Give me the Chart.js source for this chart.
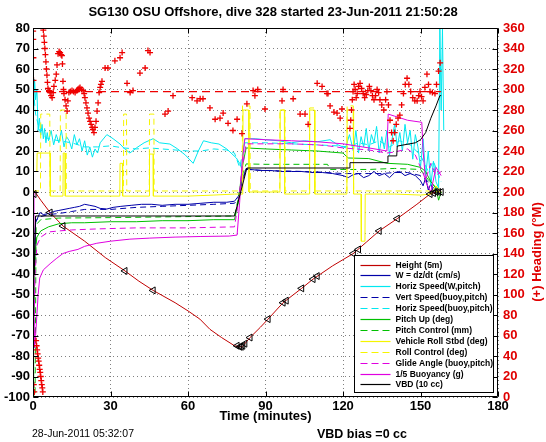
<!DOCTYPE html>
<html>
<head>
<meta charset="utf-8">
<script src="https://cdn.jsdelivr.net/npm/chart.js@4.4.0/dist/chart.umd.min.js"></script>
<style>
  html, body { margin: 0; padding: 0; background: #fff; }
  #wrap { width: 546px; height: 442px; }
</style>
</head>
<body>
<div id="wrap"><canvas id="chart" width="546" height="442"></canvas></div>
<script>
// ---- data (time in minutes) ----
const xTicks = [0, 30, 60, 90, 120, 150, 180];

// Height (5m) and the black triangle marks on it
const heightT = [0, 0.8, 3, 6.6, 11.6, 20, 28, 35.6, 41, 46.5, 55, 60, 64.6, 68.5, 73, 78, 80, 81, 82, 84, 88, 91, 96.8, 104, 108.4, 116, 124, 129, 134, 141, 148.6, 153.7, 156, 158];
const heightV = [0, 0, -4, -10, -16.6, -24, -32, -38.5, -43.5, -48, -54, -58, -62, -67, -71, -75, -75.5, -75.5, -74, -71, -66, -62, -54, -47, -42.5, -36, -30, -24.5, -19, -13, -6, -1, 0, 0];
const markT = [0.4, 6.6, 11.6, 35.6, 46.5, 79, 80, 80.6, 81.2, 82, 84, 91, 96.8, 98, 104, 108.4, 110, 124, 126, 134, 141, 153.7, 155, 156, 157, 158];
const markV = [-1, -10, -16.6, -38.5, -48, -75, -75.5, -75.5, -75, -74, -71, -62, -54, -53, -47, -42.5, -41, -30, -28, -19, -13, -1, -0.5, 0, 0, 0];

// W = dz/dt (cm/s)
const wT = [0, 0.5, 1, 2.7, 4, 6, 8, 10, 12, 14, 16, 18, 20, 22, 24, 26, 28.6, 31, 34, 38, 42, 46, 50, 55, 60, 65, 70, 75, 78, 79.5, 81, 82.5, 84, 88, 92, 96, 100, 104, 108, 112, 116, 120, 122, 124, 126, 128, 130, 132, 134, 136, 138, 140, 142, 144, 146, 148, 150, 151, 152, 153, 154, 155, 156, 157, 158];
const wV = [0, -40, -15, -10, -11, -10.5, -9.5, -9, -8.5, -8, -7.5, -7, -6, -6.5, -7, -8, -8.3, -7.5, -7, -6.5, -6, -6, -6.5, -6, -6, -5.5, -5, -5, -4.5, -2, 6, 11.5, 11, 10.5, 10.5, 10, 10, 10, 9.5, 9.5, 9, 8, 7, 8.5, 9, 7, 8, 10, 8, 9, 7, 9.5, 10, 8, 9, 8, 5.5, 3, 7, 1, 4, 0, 2, -1, 0];

// Horiz Speed(W,pitch)
const hsT = [0.3, 0.6, 1, 1.5, 2, 2.5, 3, 3.5, 4, 4.5, 5, 5.5, 6, 7, 8, 9, 10, 11, 12, 13, 14, 15, 16, 17, 18, 19, 20, 21, 22, 23, 24, 25, 26, 28.6, 31, 33.7, 35.5, 37.5, 40, 43, 46.5, 49, 53, 56, 59, 62, 64, 66, 69, 72, 75, 78.7, 80, 80.7, 82, 86, 90, 95, 100, 105, 110, 115, 118, 121, 122.5, 124, 125, 126, 127, 128, 129, 130, 131, 132, 133, 134, 135, 136, 137, 138, 139, 140, 141, 142, 143, 144, 145, 146, 147, 148, 149, 150, 151, 152, 153, 154, 155, 156, 157, 157.5, 158, 158.5, 159];
const hsV = [40, 55, 45, 50, 30, 36, 28, 33, 26, 31, 24, 29, 25, 30, 23, 28, 24, 30, 22, 27, 25, 21, 28, 23, 26, 20, 25, 18, 22, 17, 21, 19, 24, 28, 26, 23.4, 21, 19, 21.5, 24, 26, 24, 23.4, 21, 18, 14, 20, 25, 24, 23.4, 21, 16.6, 14, 11.7, 26, 26, 25.5, 25, 24, 25, 24.5, 25.5, 23, 21.5, 28, 20, 30, 19, 27, 22, 31, 20, 28, 24, 32, 19, 27, 21, 30, 18, 26, 33, 22, 29, 20, 33, 24, 30, 16, 28, 22, 12, 26, 8, 20, 3, 15, 5, 2, 80, 40, 80, 30];

// Vert Speed(buoy,pitch)
const vsT = [0.5, 1, 3, 6, 10, 15, 20, 25, 30, 40, 50, 60, 70, 78, 79.5, 81, 82.5, 90, 100, 110, 120, 125, 130, 135, 140, 145, 150, 153, 155, 158];
const vsV = [-40, -14, -12, -11, -10.5, -9.5, -8.5, -8.5, -8.5, -7.5, -7, -6.5, -6, -5.5, -3, 5, 11, 10.5, 10.2, 9.8, 9, 9, 9, 9, 9.5, 9.5, 8, 5, 2, 0];

// Horiz Speed(buoy,pitch)
const hbT = [0.5, 1, 3, 6, 10, 15, 20, 25, 30, 35, 40, 45, 50, 55, 60, 65, 70, 75, 78, 80, 82, 90, 100, 110, 118, 122, 126, 130, 134, 138, 142, 146, 150, 153, 155, 158];
const hbV = [45, 38, 28, 26, 25, 24, 22, 22, 22.5, 21.5, 21, 21.5, 21, 20.5, 20, 20, 21, 20.5, 19, 12, 24, 24, 23.5, 23, 22.5, 22, 24, 23, 25, 22, 25, 23, 18, 10, 15, 5];

// Pitch Up (deg)
const puT = [0, 0.4, 0.8, 1.5, 3, 6, 10, 15, 20, 30, 40, 50, 60, 70, 78, 79.5, 81, 82.5, 90, 100, 110, 120, 122, 130, 137, 145, 150, 152, 154, 156, 157, 158];
const puV = [0, -60, -30, -22, -19, -17, -15.5, -15, -15, -14.5, -14.5, -14, -14, -13.5, -13.5, -5, 12, 21.5, 21, 20.5, 20, 19, 16.6, 16.3, 14, 13.5, 12, 10, 5, 2, -4, 0];

// Pitch Control (mm)
const pcT = [0, 0.3, 0.8, 1.2, 3, 10, 30, 60, 78, 79.5, 81, 82.5, 90, 110, 114, 115, 130, 140, 150, 153, 156, 158];
const pcV = [0, -100, -100, -16, -13.5, -12.7, -12.5, -12, -11.7, -3, 8, 13.7, 13.5, 13.5, 13.5, 11, 11, 11.5, 11, 6, 2, 0];

// Vehicle Roll Stbd (deg)
const rollT = [0, 1.5, 1.6, 6.6, 6.7, 11.6, 11.7, 12.4, 12.5, 33.6, 33.7, 34.6, 34.7, 45, 45.1, 46.5, 46.6, 60, 70, 78, 81.2, 81.3, 83.5, 83.6, 95.6, 95.7, 97.3, 97.4, 107, 107.1, 109, 109.1, 121.5, 121.6, 124, 124.1, 127, 127.1, 128.5, 128.6, 140, 150, 154, 156, 158];
const rollV = [10, 10, 19, 19, -2, -2, 19, 19, -2, -2, 14, 14, -2, -2, 18.5, 18.5, -2, -2, -1.5, -1, -1, 40, 40, 0, 0, 40, 40, -1, -1, 40, 40, -1, -1, 40, 40, -1, -1, -24, -24, -1, -1, -1.5, -1, 3, 0];

// Roll Control (deg)
const rcT = [0, 2.9, 3, 6.5, 6.6, 10.5, 10.6, 12.8, 12.9, 35, 35.1, 36.2, 36.3, 45, 45.1, 46.8, 46.9, 81, 81.1, 84, 84.1, 95.5, 95.6, 97.5, 97.6, 107, 107.1, 109, 109.1, 121.5, 121.6, 124, 124.1, 155, 158];
const rcV = [0.5, 0.5, 38, 38, 0.5, 0.5, 40, 40, 0.5, 0.5, 38, 38, 0.5, 0.5, 38, 38, 0.5, 0.5, 42, 42, 0.5, 0.5, 40, 40, 0.5, 0.5, 41, 41, 0.5, 0.5, 42, 42, 0.5, 0.5, 0];

// Glide Angle (buoy,pitch)
const gaT = [0.3, 0.8, 1.5, 3, 6, 10, 15, 25, 40, 60, 78, 79.5, 81, 82.5, 90, 100, 110, 115, 120, 125, 130, 137, 140, 145, 148, 150, 152, 154, 156, 158];
const gaV = [-70, -40, -26, -22, -19.5, -19, -18.5, -18, -17.5, -17.5, -17, -5, 12, 23.5, 23.5, 23.5, 23, 22.4, 21.5, 21, 20.5, 19, 19.5, 21, 18, 12, 6, 14, 8, 10];

// 1/5 Buoyancy (g)
const buoyT = [0, 0.3, 0.6, 1, 1.5, 2, 2.6, 4, 6.6, 9, 11.6, 14, 17.4, 20, 24.7, 30, 37.5, 45, 55, 65, 76, 79, 80, 81, 82, 90, 100, 110, 120, 130, 137, 137.5, 140, 145, 150.5, 151, 152, 154, 156, 158];
const buoyV = [0, -50, -76, -70, -60, -50, -42, -38, -35, -32.5, -30, -29, -28, -26.5, -25, -24, -23, -22.5, -22, -21.7, -21.5, -21, -5, 15, 26, 25.5, 25, 24.5, 23.5, 21.5, 20, 38, 37, 35, 34, 20, 5, 0, 12, 8];

// VBD (10 cc)
const vbdT = [0, 0.5, 1, 78, 82.8, 122.5, 122.7, 137.2, 137.4, 140.8, 141, 148, 150, 152, 154, 156, 157.5, 158];
const vbdV = [0, -40, -11.7, -11.7, 11.7, 11.7, 14.3, 14.3, 17.6, 17.6, 22.4, 24, 25.5, 29, 36, 42, 47, 47];

// (+) Heading (deg M), right axis
const headT = [0.05, 0.1, 0.15, 0.2, 0.3, 0.5, 1.2, 1.4, 1.6, 1.8, 2.0, 2.2, 2.4, 2.6, 2.8, 3.0, 3.2, 3.4, 3.6, 3.8,
  4.0, 4.2, 4.4, 4.6, 4.8, 5.0, 5.2, 5.4, 5.6, 5.8, 6.2, 6.6, 7.0, 7.4, 7.8, 8.1, 8.6, 9.0, 9.3, 9.7,
  10.1, 10.5, 10.9, 11.2, 11.4, 11.6, 11.8, 12.0, 12.4, 12.8, 13.2, 13.5, 13.9, 14.5, 15.1, 15.7, 16.3, 16.9, 17.4, 17.8,
  18.2, 18.8, 19.4, 19.8, 20.1, 20.5, 20.9, 21.3, 21.7, 22.1, 22.5, 22.9, 23.2, 23.6, 24.0, 24.4, 24.8, 25.2, 25.6, 26.0,
  26.3, 26.7, 27.9, 29.0, 31.7, 33.7, 34.5, 36.4, 37.6, 38.7, 41.4, 43.4, 44.5, 45.3, 51.1, 52.3, 54.2, 61.6, 63.5, 64.7,
  65.8, 68.5, 70.5, 72.4, 73.6, 75.5, 77.4, 79.0, 80.9, 82.8, 85.2, 85.9, 87.0, 89.8, 96.4, 96.8, 100.7, 103.4, 105.3, 106.5,
  110.0, 111.9, 113.8, 114.2, 115.0, 116.5, 117.7, 118.9, 119.6, 122.7, 123.0, 123.3, 123.6, 123.9, 124.3, 124.7, 125.1, 125.5, 126.0, 126.6,
  127.2, 127.8, 128.4, 129.0, 129.6, 130.2, 130.8, 131.4, 132.0, 132.6, 133.2, 133.8, 134.3, 135.0, 135.8, 136.5, 137.0, 137.6, 138.2, 138.8,
  139.4, 140.0, 140.6, 141.3, 142.0, 142.7, 143.4, 144.1, 144.8, 145.5, 146.2, 147.0, 147.8, 148.7, 149.3, 149.8, 150.4, 151.0, 151.7, 152.5,
  153.1, 153.7, 154.6, 155.6, 156.2, 157.0, 157.6];
const headV = [357, 349, 331, 309, 12, 5, 55, 50, 46, 42, 38, 35, 31, 27, 24, 20, 16, 12, 9, 5,
  358, 352, 346, 340, 334, 327, 320, 314, 307, 301, 299, 297, 294, 292, 297, 303, 309, 315, 324, 335,
  337, 336, 334, 333, 325, 308, 300, 296, 290, 284, 279, 289, 297, 298, 299, 298, 297, 299, 300, 301,
  302, 300, 299, 296, 292, 287, 282, 277, 272, 269, 266, 263, 261, 258, 263, 269, 279, 287, 297, 302,
  305, 308, 321, 321, 328, 331, 336, 306, 297, 299, 316, 321, 338, 336, 276, 279, 294, 292, 289, 291,
  291, 282, 271, 272, 277, 267, 260, 271, 257, 286, 299, 294, 300, 281, 289, 300, 291, 276, 276, 266,
  306, 303, 296, 296, 284, 278, 277, 272, 281, 262, 270, 280, 290, 298, 305, 300, 292, 296, 303, 306,
  301, 296, 292, 295, 299, 303, 299, 294, 290, 294, 300, 297, 290, 285, 280, 290, 298, 285, 270, 258,
  250, 258, 266, 272, 275, 285, 296, 305, 311, 305, 298, 292, 289, 289, 294, 298, 293, 289, 302, 315,
  305, 298, 297, 296, 305, 318, 326];
const headRefT = [0, 158];
const headRefV = [298, 298];

const FONT = '"Liberation Sans", Arial, Helvetica, sans-serif';

const toXY = (ts, vs) => ts.map((t, i) => ({ x: t, y: vs[i] }));

const lineSet = (label, ts, vs, color, dashed, order) => ({
    label: label,
    data: toXY(ts, vs),
    borderColor: color,
    backgroundColor: color,
    borderWidth: 1,
    borderDash: dashed ? [6, 4] : [],
    pointRadius: 0,
    tension: 0,
    fill: false,
    order: order
});

const datasets = [
    {
        label: '(+) Heading',
        legend: false,
        data: toXY(headT, headV),
        yAxisID: 'y1',
        showLine: false,
        pointStyle: 'cross',
        pointRadius: 3,
        pointBorderWidth: 1.3,
        pointBorderColor: '#ee0000',
        borderColor: '#ee0000',
        order: 0
    },
    Object.assign(lineSet('Heading ref', headRefT, headRefV, '#ee0000', true, 1),
        { yAxisID: 'y1', legend: false, borderDash: [8, 5], borderWidth: 1.2 }),
    {
        label: 'marks',
        legend: false,
        data: toXY(markT, markV),
        showLine: false,
        pointStyle: 'triangle',
        pointRotation: 270,
        pointRadius: 4,
        pointBorderWidth: 1,
        pointBorderColor: '#000',
        pointBackgroundColor: 'rgba(0,0,0,0)',
        order: 2
    },
    lineSet('Height (5m)', heightT, heightV, '#c00000', false, 14),
    lineSet('W = dz/dt (cm/s)', wT, wV, '#0000a8', false, 13),
    lineSet('Horiz Speed(W,pitch)', hsT, hsV, '#00e8f0', false, 12),
    lineSet('Vert Speed(buoy,pitch)', vsT, vsV, '#0000a8', true, 11),
    lineSet('Horiz Speed(buoy,pitch)', hbT, hbV, '#00e8f0', true, 10),
    lineSet('Pitch Up (deg)', puT, puV, '#00c000', false, 9),
    lineSet('Pitch Control (mm)', pcT, pcV, '#00c000', true, 8),
    lineSet('Vehicle Roll Stbd (deg)', rollT, rollV, '#f5f500', false, 7),
    lineSet('Roll Control (deg)', rcT, rcV, '#f5f500', true, 6),
    lineSet('Glide Angle (buoy,pitch)', gaT, gaV, '#e000e0', true, 5),
    lineSet('1/5 Buoyancy (g)', buoyT, buoyV, '#e000e0', false, 4),
    lineSet('VBD (10 cc)', vbdT, vbdV, '#000000', false, 3)
];

// frame, inward ticks, legend box, right axis title and footer text
const matlabBox = {
    id: 'matlabBox',
    afterDatasetsDraw(chart) {
        const { ctx, chartArea: a, scales } = chart;
        const L = Math.round(a.left) + 0.5, R = Math.round(a.right) - 0.5;
        const T = Math.round(a.top) + 0.5, B = Math.round(a.bottom) - 0.5;
        const tl = 5;
        ctx.save();
        ctx.strokeStyle = '#000';
        ctx.lineWidth = 1;
        ctx.beginPath();
        ctx.rect(L, T, R - L, B - T);
        scales.x.ticks.forEach(t => {
            const px = Math.round(scales.x.getPixelForValue(t.value)) + 0.5;
            ctx.moveTo(px, B); ctx.lineTo(px, B - tl);
            ctx.moveTo(px, T); ctx.lineTo(px, T + tl);
        });
        scales.y.ticks.forEach(t => {
            const py = Math.round(scales.y.getPixelForValue(t.value)) + 0.5;
            ctx.moveTo(L, py); ctx.lineTo(L + tl, py);
        });
        scales.y1.ticks.forEach(t => {
            const py = Math.round(scales.y1.getPixelForValue(t.value)) + 0.5;
            ctx.moveTo(R, py); ctx.lineTo(R - tl, py);
        });
        ctx.stroke();
        ctx.restore();
    },
    afterDraw(chart) {
        const { ctx, chartArea: a } = chart;
        const items = chart.data.datasets.filter(d => d.legend !== false);
        const bw = 139, bh = 137;
        const bx = Math.round(a.right) - 5 - bw + 0.5;
        const by = Math.round(a.bottom) - 5 - bh + 0.5;
        ctx.save();
        ctx.fillStyle = '#fff';
        ctx.fillRect(bx, by, bw, bh);
        ctx.strokeStyle = '#000';
        ctx.lineWidth = 1;
        ctx.strokeRect(bx, by, bw, bh);
        ctx.font = 'bold 8.5px ' + FONT;
        ctx.textBaseline = 'middle';
        items.forEach((d, i) => {
            const ry = Math.round(by + 9 + i * 10.9) + 0.5;
            ctx.strokeStyle = d.borderColor;
            ctx.lineWidth = 1.2;
            ctx.setLineDash(d.borderDash.length ? [7, 4] : []);
            ctx.beginPath();
            ctx.moveTo(bx + 6, ry);
            ctx.lineTo(bx + 36, ry);
            ctx.stroke();
            ctx.setLineDash([]);
            ctx.fillStyle = '#000';
            ctx.fillText(d.label, bx + 41, ry);
        });

        // right axis title
        ctx.save();
        ctx.translate(537, 252);
        ctx.rotate(-Math.PI / 2);
        ctx.textAlign = 'center';
        ctx.textBaseline = 'middle';
        ctx.fillStyle = '#e00000';
        ctx.font = 'bold 13px ' + FONT;
        ctx.fillText('(+) Heading (\u00B0M)', 0, 0);
        ctx.restore();

        // footer
        ctx.fillStyle = '#000';
        ctx.textBaseline = 'alphabetic';
        ctx.font = '10.5px ' + FONT;
        ctx.fillText('28-Jun-2011 05:32:07', 32, 437);
        ctx.font = 'bold 12.5px ' + FONT;
        ctx.fillText('VBD bias =0 cc', 317, 438);
        ctx.restore();
    }
};

const tickFont = { family: FONT, size: 13, weight: 'bold' };

new Chart(document.getElementById('chart'), {
    type: 'line',
    data: { datasets: datasets },
    plugins: [matlabBox],
    options: {
        responsive: false,
        animation: false,
        layout: { padding: { top: 0, left: 0, right: 0, bottom: 18 } },
        plugins: {
            legend: { display: false },
            tooltip: { enabled: false },
            title: {
                display: true,
                text: 'SG130 OSU Offshore, dive 328 started 23-Jun-2011 21:50:28',
                color: '#000',
                font: { family: FONT, size: 13, weight: 'bold', lineHeight: 1 },
                padding: { top: 6, bottom: 9 }
            }
        },
        scales: {
            x: {
                type: 'linear',
                min: xTicks[0],
                max: xTicks[xTicks.length - 1],
                afterBuildTicks: s => { s.ticks = xTicks.map(v => ({ value: v })); },
                ticks: { color: '#000', font: tickFont, padding: 2, maxRotation: 0 },
                grid: { color: '#808080', lineWidth: 1, drawTicks: false },
                border: { display: false, dash: [1, 3] },
                title: {
                    display: true,
                    text: 'Time (minutes)',
                    color: '#000',
                    font: { family: FONT, size: 13, weight: 'bold' },
                    padding: { top: 0, bottom: 0 }
                },
                afterFit: s => { s.height = 27; }
            },
            y: {
                min: -100,
                max: 80,
                ticks: { stepSize: 10, autoSkip: false, color: '#000', font: tickFont, padding: 3 },
                grid: { color: '#808080', lineWidth: 1, drawTicks: false },
                border: { display: false, dash: [1, 3] },
                afterFit: s => { s.width = 33; }
            },
            y1: {
                position: 'right',
                min: 0,
                max: 360,
                ticks: { stepSize: 20, autoSkip: false, color: '#e00000', font: tickFont, padding: 5 },
                grid: { display: false, drawTicks: false },
                border: { display: false },
                afterFit: s => { s.width = 48; }
            }
        }
    }
});
</script>
</body>
</html>
